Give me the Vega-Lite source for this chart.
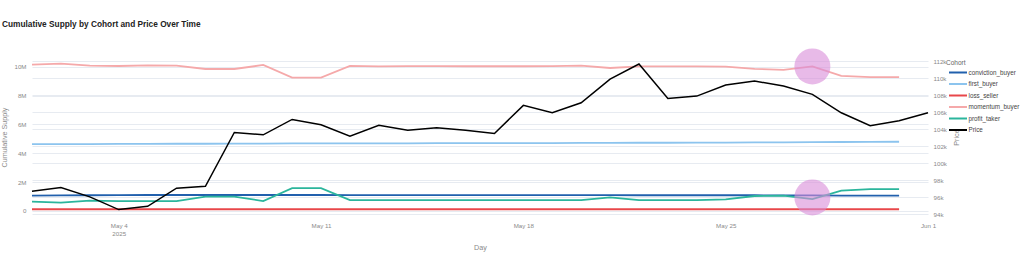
{
  "$schema": "https://vega.github.io/schema/vega-lite/v6.json",
  "width": 896,
  "height": 160,
  "autosize": "none",
  "padding": {"left": 32, "top": 57, "right": 92, "bottom": 46},
  "background": "white",
  "config": {
    "view": {"stroke": null},
    "font": "Liberation Sans",
    "axis": {"domain": false, "ticks": false, "labelFont": "Liberation Sans", "titleFont": "Liberation Sans", "labelFontSize": 6.2, "labelColor": "#8a8a8a", "titleFontSize": 7.2, "titleColor": "#8a8a8a", "titleFontWeight": "normal", "gridColor": "#e7ebf1", "gridWidth": 1, "labelOverlap": false},
    "legend": {"labelFont": "Liberation Sans", "titleFont": "Liberation Sans"}
  },
  "title": {"text": "Cumulative Supply by Cohort and Price Over Time", "anchor": "start", "frame": "group", "font": "Liberation Sans", "fontSize": 8.3, "fontWeight": "bold", "color": "#222222", "dx": -30, "offset": 20},
  "datasets": {
    "cohorts": [
      {"day": "2025-05-01T00:00:00", "cohort": "conviction_buyer", "supply": 1070000},
      {"day": "2025-05-02T00:00:00", "cohort": "conviction_buyer", "supply": 1080000},
      {"day": "2025-05-03T00:00:00", "cohort": "conviction_buyer", "supply": 1090000},
      {"day": "2025-05-04T00:00:00", "cohort": "conviction_buyer", "supply": 1100000},
      {"day": "2025-05-05T00:00:00", "cohort": "conviction_buyer", "supply": 1110000},
      {"day": "2025-05-06T00:00:00", "cohort": "conviction_buyer", "supply": 1110000},
      {"day": "2025-05-07T00:00:00", "cohort": "conviction_buyer", "supply": 1110000},
      {"day": "2025-05-08T00:00:00", "cohort": "conviction_buyer", "supply": 1110000},
      {"day": "2025-05-09T00:00:00", "cohort": "conviction_buyer", "supply": 1110000},
      {"day": "2025-05-10T00:00:00", "cohort": "conviction_buyer", "supply": 1110000},
      {"day": "2025-05-11T00:00:00", "cohort": "conviction_buyer", "supply": 1110000},
      {"day": "2025-05-12T00:00:00", "cohort": "conviction_buyer", "supply": 1100000},
      {"day": "2025-05-13T00:00:00", "cohort": "conviction_buyer", "supply": 1100000},
      {"day": "2025-05-14T00:00:00", "cohort": "conviction_buyer", "supply": 1100000},
      {"day": "2025-05-15T00:00:00", "cohort": "conviction_buyer", "supply": 1100000},
      {"day": "2025-05-16T00:00:00", "cohort": "conviction_buyer", "supply": 1100000},
      {"day": "2025-05-17T00:00:00", "cohort": "conviction_buyer", "supply": 1100000},
      {"day": "2025-05-18T00:00:00", "cohort": "conviction_buyer", "supply": 1100000},
      {"day": "2025-05-19T00:00:00", "cohort": "conviction_buyer", "supply": 1100000},
      {"day": "2025-05-20T00:00:00", "cohort": "conviction_buyer", "supply": 1100000},
      {"day": "2025-05-21T00:00:00", "cohort": "conviction_buyer", "supply": 1100000},
      {"day": "2025-05-22T00:00:00", "cohort": "conviction_buyer", "supply": 1090000},
      {"day": "2025-05-23T00:00:00", "cohort": "conviction_buyer", "supply": 1090000},
      {"day": "2025-05-24T00:00:00", "cohort": "conviction_buyer", "supply": 1090000},
      {"day": "2025-05-25T00:00:00", "cohort": "conviction_buyer", "supply": 1090000},
      {"day": "2025-05-26T00:00:00", "cohort": "conviction_buyer", "supply": 1090000},
      {"day": "2025-05-27T00:00:00", "cohort": "conviction_buyer", "supply": 1080000},
      {"day": "2025-05-28T00:00:00", "cohort": "conviction_buyer", "supply": 1080000},
      {"day": "2025-05-29T00:00:00", "cohort": "conviction_buyer", "supply": 1070000},
      {"day": "2025-05-30T00:00:00", "cohort": "conviction_buyer", "supply": 1070000},
      {"day": "2025-05-31T00:00:00", "cohort": "conviction_buyer", "supply": 1070000},
      {"day": "2025-05-01T00:00:00", "cohort": "first_buyer", "supply": 4630000},
      {"day": "2025-05-02T00:00:00", "cohort": "first_buyer", "supply": 4640000},
      {"day": "2025-05-03T00:00:00", "cohort": "first_buyer", "supply": 4640000},
      {"day": "2025-05-04T00:00:00", "cohort": "first_buyer", "supply": 4650000},
      {"day": "2025-05-05T00:00:00", "cohort": "first_buyer", "supply": 4650000},
      {"day": "2025-05-06T00:00:00", "cohort": "first_buyer", "supply": 4660000},
      {"day": "2025-05-07T00:00:00", "cohort": "first_buyer", "supply": 4660000},
      {"day": "2025-05-08T00:00:00", "cohort": "first_buyer", "supply": 4670000},
      {"day": "2025-05-09T00:00:00", "cohort": "first_buyer", "supply": 4670000},
      {"day": "2025-05-10T00:00:00", "cohort": "first_buyer", "supply": 4680000},
      {"day": "2025-05-11T00:00:00", "cohort": "first_buyer", "supply": 4680000},
      {"day": "2025-05-12T00:00:00", "cohort": "first_buyer", "supply": 4680000},
      {"day": "2025-05-13T00:00:00", "cohort": "first_buyer", "supply": 4690000},
      {"day": "2025-05-14T00:00:00", "cohort": "first_buyer", "supply": 4690000},
      {"day": "2025-05-15T00:00:00", "cohort": "first_buyer", "supply": 4700000},
      {"day": "2025-05-16T00:00:00", "cohort": "first_buyer", "supply": 4700000},
      {"day": "2025-05-17T00:00:00", "cohort": "first_buyer", "supply": 4700000},
      {"day": "2025-05-18T00:00:00", "cohort": "first_buyer", "supply": 4710000},
      {"day": "2025-05-19T00:00:00", "cohort": "first_buyer", "supply": 4710000},
      {"day": "2025-05-20T00:00:00", "cohort": "first_buyer", "supply": 4720000},
      {"day": "2025-05-21T00:00:00", "cohort": "first_buyer", "supply": 4720000},
      {"day": "2025-05-22T00:00:00", "cohort": "first_buyer", "supply": 4730000},
      {"day": "2025-05-23T00:00:00", "cohort": "first_buyer", "supply": 4730000},
      {"day": "2025-05-24T00:00:00", "cohort": "first_buyer", "supply": 4740000},
      {"day": "2025-05-25T00:00:00", "cohort": "first_buyer", "supply": 4740000},
      {"day": "2025-05-26T00:00:00", "cohort": "first_buyer", "supply": 4750000},
      {"day": "2025-05-27T00:00:00", "cohort": "first_buyer", "supply": 4760000},
      {"day": "2025-05-28T00:00:00", "cohort": "first_buyer", "supply": 4770000},
      {"day": "2025-05-29T00:00:00", "cohort": "first_buyer", "supply": 4780000},
      {"day": "2025-05-30T00:00:00", "cohort": "first_buyer", "supply": 4790000},
      {"day": "2025-05-31T00:00:00", "cohort": "first_buyer", "supply": 4800000},
      {"day": "2025-05-01T00:00:00", "cohort": "loss_seller", "supply": 120000},
      {"day": "2025-05-02T00:00:00", "cohort": "loss_seller", "supply": 120000},
      {"day": "2025-05-03T00:00:00", "cohort": "loss_seller", "supply": 120000},
      {"day": "2025-05-04T00:00:00", "cohort": "loss_seller", "supply": 120000},
      {"day": "2025-05-05T00:00:00", "cohort": "loss_seller", "supply": 120000},
      {"day": "2025-05-06T00:00:00", "cohort": "loss_seller", "supply": 120000},
      {"day": "2025-05-07T00:00:00", "cohort": "loss_seller", "supply": 120000},
      {"day": "2025-05-08T00:00:00", "cohort": "loss_seller", "supply": 120000},
      {"day": "2025-05-09T00:00:00", "cohort": "loss_seller", "supply": 120000},
      {"day": "2025-05-10T00:00:00", "cohort": "loss_seller", "supply": 120000},
      {"day": "2025-05-11T00:00:00", "cohort": "loss_seller", "supply": 120000},
      {"day": "2025-05-12T00:00:00", "cohort": "loss_seller", "supply": 120000},
      {"day": "2025-05-13T00:00:00", "cohort": "loss_seller", "supply": 120000},
      {"day": "2025-05-14T00:00:00", "cohort": "loss_seller", "supply": 120000},
      {"day": "2025-05-15T00:00:00", "cohort": "loss_seller", "supply": 120000},
      {"day": "2025-05-16T00:00:00", "cohort": "loss_seller", "supply": 120000},
      {"day": "2025-05-17T00:00:00", "cohort": "loss_seller", "supply": 120000},
      {"day": "2025-05-18T00:00:00", "cohort": "loss_seller", "supply": 120000},
      {"day": "2025-05-19T00:00:00", "cohort": "loss_seller", "supply": 120000},
      {"day": "2025-05-20T00:00:00", "cohort": "loss_seller", "supply": 120000},
      {"day": "2025-05-21T00:00:00", "cohort": "loss_seller", "supply": 120000},
      {"day": "2025-05-22T00:00:00", "cohort": "loss_seller", "supply": 120000},
      {"day": "2025-05-23T00:00:00", "cohort": "loss_seller", "supply": 120000},
      {"day": "2025-05-24T00:00:00", "cohort": "loss_seller", "supply": 120000},
      {"day": "2025-05-25T00:00:00", "cohort": "loss_seller", "supply": 120000},
      {"day": "2025-05-26T00:00:00", "cohort": "loss_seller", "supply": 120000},
      {"day": "2025-05-27T00:00:00", "cohort": "loss_seller", "supply": 120000},
      {"day": "2025-05-28T00:00:00", "cohort": "loss_seller", "supply": 120000},
      {"day": "2025-05-29T00:00:00", "cohort": "loss_seller", "supply": 120000},
      {"day": "2025-05-30T00:00:00", "cohort": "loss_seller", "supply": 120000},
      {"day": "2025-05-31T00:00:00", "cohort": "loss_seller", "supply": 120000},
      {"day": "2025-05-01T00:00:00", "cohort": "momentum_buyer", "supply": 10140000},
      {"day": "2025-05-02T00:00:00", "cohort": "momentum_buyer", "supply": 10210000},
      {"day": "2025-05-03T00:00:00", "cohort": "momentum_buyer", "supply": 10070000},
      {"day": "2025-05-04T00:00:00", "cohort": "momentum_buyer", "supply": 10050000},
      {"day": "2025-05-05T00:00:00", "cohort": "momentum_buyer", "supply": 10090000},
      {"day": "2025-05-06T00:00:00", "cohort": "momentum_buyer", "supply": 10070000},
      {"day": "2025-05-07T00:00:00", "cohort": "momentum_buyer", "supply": 9840000},
      {"day": "2025-05-08T00:00:00", "cohort": "momentum_buyer", "supply": 9840000},
      {"day": "2025-05-09T00:00:00", "cohort": "momentum_buyer", "supply": 10120000},
      {"day": "2025-05-10T00:00:00", "cohort": "momentum_buyer", "supply": 9240000},
      {"day": "2025-05-11T00:00:00", "cohort": "momentum_buyer", "supply": 9240000},
      {"day": "2025-05-12T00:00:00", "cohort": "momentum_buyer", "supply": 10050000},
      {"day": "2025-05-13T00:00:00", "cohort": "momentum_buyer", "supply": 10020000},
      {"day": "2025-05-14T00:00:00", "cohort": "momentum_buyer", "supply": 10040000},
      {"day": "2025-05-15T00:00:00", "cohort": "momentum_buyer", "supply": 10040000},
      {"day": "2025-05-16T00:00:00", "cohort": "momentum_buyer", "supply": 10030000},
      {"day": "2025-05-17T00:00:00", "cohort": "momentum_buyer", "supply": 10030000},
      {"day": "2025-05-18T00:00:00", "cohort": "momentum_buyer", "supply": 10030000},
      {"day": "2025-05-19T00:00:00", "cohort": "momentum_buyer", "supply": 10040000},
      {"day": "2025-05-20T00:00:00", "cohort": "momentum_buyer", "supply": 10070000},
      {"day": "2025-05-21T00:00:00", "cohort": "momentum_buyer", "supply": 9910000},
      {"day": "2025-05-22T00:00:00", "cohort": "momentum_buyer", "supply": 10020000},
      {"day": "2025-05-23T00:00:00", "cohort": "momentum_buyer", "supply": 10020000},
      {"day": "2025-05-24T00:00:00", "cohort": "momentum_buyer", "supply": 10020000},
      {"day": "2025-05-25T00:00:00", "cohort": "momentum_buyer", "supply": 10010000},
      {"day": "2025-05-26T00:00:00", "cohort": "momentum_buyer", "supply": 9850000},
      {"day": "2025-05-27T00:00:00", "cohort": "momentum_buyer", "supply": 9780000},
      {"day": "2025-05-28T00:00:00", "cohort": "momentum_buyer", "supply": 10020000},
      {"day": "2025-05-29T00:00:00", "cohort": "momentum_buyer", "supply": 9370000},
      {"day": "2025-05-30T00:00:00", "cohort": "momentum_buyer", "supply": 9280000},
      {"day": "2025-05-31T00:00:00", "cohort": "momentum_buyer", "supply": 9280000},
      {"day": "2025-05-01T00:00:00", "cohort": "profit_taker", "supply": 650000},
      {"day": "2025-05-02T00:00:00", "cohort": "profit_taker", "supply": 580000},
      {"day": "2025-05-03T00:00:00", "cohort": "profit_taker", "supply": 720000},
      {"day": "2025-05-04T00:00:00", "cohort": "profit_taker", "supply": 690000},
      {"day": "2025-05-05T00:00:00", "cohort": "profit_taker", "supply": 690000},
      {"day": "2025-05-06T00:00:00", "cohort": "profit_taker", "supply": 690000},
      {"day": "2025-05-07T00:00:00", "cohort": "profit_taker", "supply": 990000},
      {"day": "2025-05-08T00:00:00", "cohort": "profit_taker", "supply": 990000},
      {"day": "2025-05-09T00:00:00", "cohort": "profit_taker", "supply": 690000},
      {"day": "2025-05-10T00:00:00", "cohort": "profit_taker", "supply": 1580000},
      {"day": "2025-05-11T00:00:00", "cohort": "profit_taker", "supply": 1580000},
      {"day": "2025-05-12T00:00:00", "cohort": "profit_taker", "supply": 760000},
      {"day": "2025-05-13T00:00:00", "cohort": "profit_taker", "supply": 760000},
      {"day": "2025-05-14T00:00:00", "cohort": "profit_taker", "supply": 750000},
      {"day": "2025-05-15T00:00:00", "cohort": "profit_taker", "supply": 760000},
      {"day": "2025-05-16T00:00:00", "cohort": "profit_taker", "supply": 760000},
      {"day": "2025-05-17T00:00:00", "cohort": "profit_taker", "supply": 760000},
      {"day": "2025-05-18T00:00:00", "cohort": "profit_taker", "supply": 760000},
      {"day": "2025-05-19T00:00:00", "cohort": "profit_taker", "supply": 750000},
      {"day": "2025-05-20T00:00:00", "cohort": "profit_taker", "supply": 760000},
      {"day": "2025-05-21T00:00:00", "cohort": "profit_taker", "supply": 950000},
      {"day": "2025-05-22T00:00:00", "cohort": "profit_taker", "supply": 760000},
      {"day": "2025-05-23T00:00:00", "cohort": "profit_taker", "supply": 760000},
      {"day": "2025-05-24T00:00:00", "cohort": "profit_taker", "supply": 760000},
      {"day": "2025-05-25T00:00:00", "cohort": "profit_taker", "supply": 800000},
      {"day": "2025-05-26T00:00:00", "cohort": "profit_taker", "supply": 1040000},
      {"day": "2025-05-27T00:00:00", "cohort": "profit_taker", "supply": 1060000},
      {"day": "2025-05-28T00:00:00", "cohort": "profit_taker", "supply": 830000},
      {"day": "2025-05-29T00:00:00", "cohort": "profit_taker", "supply": 1410000},
      {"day": "2025-05-30T00:00:00", "cohort": "profit_taker", "supply": 1510000},
      {"day": "2025-05-31T00:00:00", "cohort": "profit_taker", "supply": 1510000}
    ],
    "price": [
      {"day": "2025-05-01T00:00:00", "price": 96710},
      {"day": "2025-05-02T00:00:00", "price": 97140},
      {"day": "2025-05-03T00:00:00", "price": 96040},
      {"day": "2025-05-04T00:00:00", "price": 94550},
      {"day": "2025-05-05T00:00:00", "price": 94940},
      {"day": "2025-05-06T00:00:00", "price": 97060},
      {"day": "2025-05-07T00:00:00", "price": 97290},
      {"day": "2025-05-08T00:00:00", "price": 103610},
      {"day": "2025-05-09T00:00:00", "price": 103330},
      {"day": "2025-05-10T00:00:00", "price": 105140},
      {"day": "2025-05-11T00:00:00", "price": 104510},
      {"day": "2025-05-12T00:00:00", "price": 103180},
      {"day": "2025-05-13T00:00:00", "price": 104440},
      {"day": "2025-05-14T00:00:00", "price": 103880},
      {"day": "2025-05-15T00:00:00", "price": 104150},
      {"day": "2025-05-16T00:00:00", "price": 103880},
      {"day": "2025-05-17T00:00:00", "price": 103490},
      {"day": "2025-05-18T00:00:00", "price": 106790},
      {"day": "2025-05-19T00:00:00", "price": 105920},
      {"day": "2025-05-20T00:00:00", "price": 107090},
      {"day": "2025-05-21T00:00:00", "price": 109880},
      {"day": "2025-05-22T00:00:00", "price": 111650},
      {"day": "2025-05-23T00:00:00", "price": 107610},
      {"day": "2025-05-24T00:00:00", "price": 107880},
      {"day": "2025-05-25T00:00:00", "price": 109180},
      {"day": "2025-05-26T00:00:00", "price": 109650},
      {"day": "2025-05-27T00:00:00", "price": 109060},
      {"day": "2025-05-28T00:00:00", "price": 108080},
      {"day": "2025-05-29T00:00:00", "price": 105920},
      {"day": "2025-05-30T00:00:00", "price": 104390},
      {"day": "2025-05-31T00:00:00", "price": 104980},
      {"day": "2025-06-01T00:00:00", "price": 105920}
    ],
    "highlights": [
      {"day": "2025-05-28T00:00:00", "supply": 10020000},
      {"day": "2025-05-28T00:00:00", "supply": 940000}
    ]
  },
  "layer": [
    {
      "data": {"name": "cohorts"},
      "mark": {"type": "line", "strokeWidth": 1.8},
      "encoding": {
        "x": {"field": "day", "type": "temporal", "title": "Day",
          "scale": {"domain": [{"year": 2025, "month": 5, "date": 1}, {"year": 2025, "month": 6, "date": 1}]},
          "axis": {"values": [{"year": 2025, "month": 5, "date": 4}, {"year": 2025, "month": 5, "date": 11}, {"year": 2025, "month": 5, "date": 18}, {"year": 2025, "month": 5, "date": 25}, {"year": 2025, "month": 6, "date": 1}],
            "labelExpr": "date(datum.value) == 4 && month(datum.value) == 4 ? ['May 4', '2025'] : timeFormat(datum.value, '%b %-d')",
            "grid": false, "labelPadding": 5, "labelLineHeight": 8.5, "labelAlign": "center", "labelBaseline": "top",
            "titleY": 30, "titleBaseline": "middle"}},
        "y": {"field": "supply", "type": "quantitative", "title": "Cumulative Supply",
          "scale": {"domain": [-416000, 10672000], "nice": false, "zero": false},
          "axis": {"values": [0, 2000000, 4000000, 6000000, 8000000, 10000000], "labelOverlap": false,
            "labelExpr": "datum.value == 0 ? '0' : (datum.value / 1000000) + 'M'", "grid": true, "labelPadding": 6,
            "titleAngle": 270, "titleX": -28, "titleY": 80, "titleBaseline": "middle", "titleAlign": "center"}},
        "color": {"field": "cohort", "type": "nominal", "title": "Cohort",
          "scale": {"domain": ["conviction_buyer", "first_buyer", "loss_seller", "momentum_buyer", "profit_taker", "Price"],
            "range": ["#2160ad", "#8cc4ee", "#e8474a", "#f5a9aa", "#2bb59c", "#000000"]},
          "legend": {"orient": "none", "legendX": 914, "legendY": 2.5, "symbolType": "M-3.6,0L3.6,0", "symbolSize": 25, "symbolStrokeWidth": 2,
            "symbolOffset": 8.5, "labelOffset": 7,
            "labelFontSize": 6.3, "labelColor": "#444444", "titleFontSize": 6.5, "titleFontWeight": "normal", "titleColor": "#666666",
            "rowPadding": 2.5, "titlePadding": 3}}
      }
    },
    {
      "data": {"name": "highlights"},
      "mark": {"type": "point", "filled": true, "shape": "circle", "size": 1296, "color": "#d98cd9", "opacity": 0.6},
      "encoding": {
        "x": {"field": "day", "type": "temporal"},
        "y": {"field": "supply", "type": "quantitative", "axis": null,
          "scale": {"domain": [-416000, 10672000], "nice": false, "zero": false}}
      }
    },
    {
      "data": {"name": "price"},
      "mark": {"type": "line", "strokeWidth": 1.5},
      "encoding": {
        "x": {"field": "day", "type": "temporal"},
        "y": {"field": "price", "type": "quantitative", "title": "Price",
          "scale": {"domain": [93680, 112470], "nice": false, "zero": false},
          "axis": {"orient": "right", "values": [94000, 96000, 98000, 100000, 102000, 104000, 106000, 108000, 110000, 112000], "labelOverlap": false,
            "labelExpr": "(datum.value / 1000) + 'k'", "grid": true, "labelPadding": 5,
            "titleAngle": 270, "titleX": 28, "titleY": 80, "titleBaseline": "middle", "titleAlign": "center"}},
        "color": {"datum": "Price"}
      }
    }
  ],
  "resolve": {"scale": {"y": "independent"}}
}
